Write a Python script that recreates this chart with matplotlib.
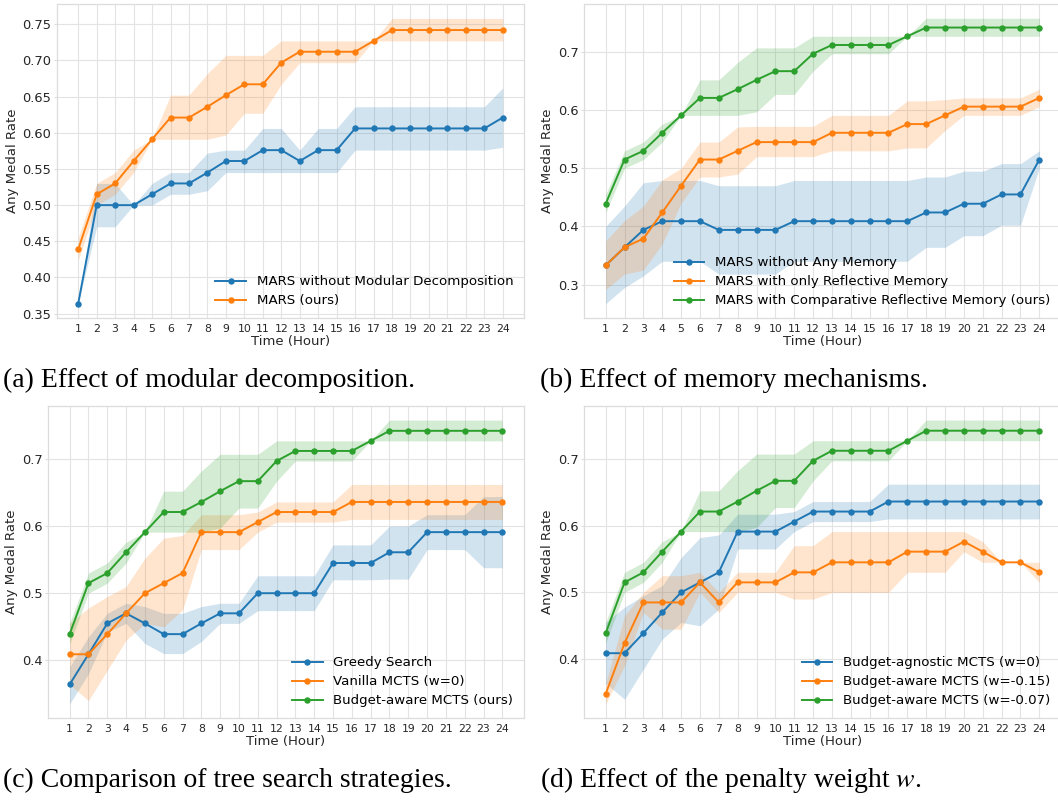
import matplotlib
matplotlib.use("Agg")
import matplotlib.pyplot as plt

plt.rcParams['font.family'] = ['DejaVu Sans']
plt.rcParams['mathtext.fontset'] = 'stix'

hours = list(range(1, 25))

# ---- shared series: full MARS / Budget-aware MCTS (ours) ----
mars_full = [0.439, 0.515, 0.530, 0.561, 0.591, 0.621, 0.621, 0.636, 0.652, 0.667, 0.667, 0.697,
             0.712, 0.712, 0.712, 0.712, 0.727, 0.742, 0.742, 0.742, 0.742, 0.742, 0.742, 0.742]
mars_full_lo = [0.424, 0.500, 0.515, 0.545, 0.591, 0.591, 0.591, 0.591, 0.597, 0.627, 0.627, 0.667,
                0.697, 0.697, 0.697, 0.697, 0.727, 0.727, 0.727, 0.727, 0.727, 0.727, 0.727, 0.727]
mars_full_hi = [0.455, 0.530, 0.545, 0.576, 0.591, 0.652, 0.652, 0.682, 0.707, 0.707, 0.707, 0.727,
                0.727, 0.727, 0.727, 0.727, 0.727, 0.758, 0.758, 0.758, 0.758, 0.758, 0.758, 0.758]

# ---- (a) without modular decomposition ----
no_md = [0.364, 0.500, 0.500, 0.500, 0.515, 0.530, 0.530, 0.545, 0.561, 0.561, 0.576, 0.576,
         0.561, 0.576, 0.576, 0.606, 0.606, 0.606, 0.606, 0.606, 0.606, 0.606, 0.606, 0.621]
no_md_lo = [0.364, 0.470, 0.470, 0.500, 0.500, 0.515, 0.515, 0.520, 0.545, 0.545, 0.545, 0.545,
            0.545, 0.545, 0.545, 0.576, 0.576, 0.576, 0.576, 0.576, 0.576, 0.576, 0.576, 0.580]
no_md_hi = [0.364, 0.530, 0.530, 0.500, 0.530, 0.545, 0.545, 0.572, 0.576, 0.576, 0.606, 0.606,
            0.576, 0.606, 0.606, 0.636, 0.636, 0.636, 0.636, 0.636, 0.636, 0.636, 0.636, 0.662]

# ---- (b) memory ablations ----
no_mem = [0.333, 0.364, 0.394, 0.409, 0.409, 0.409, 0.394, 0.394, 0.394, 0.394, 0.409, 0.409,
          0.409, 0.409, 0.409, 0.409, 0.409, 0.424, 0.424, 0.439, 0.439, 0.455, 0.455, 0.515]
no_mem_lo = [0.267, 0.295, 0.315, 0.340, 0.340, 0.340, 0.318, 0.318, 0.318, 0.318, 0.340, 0.340,
             0.340, 0.340, 0.340, 0.340, 0.340, 0.364, 0.364, 0.384, 0.384, 0.402, 0.402, 0.500]
no_mem_hi = [0.400, 0.435, 0.475, 0.479, 0.479, 0.479, 0.470, 0.470, 0.470, 0.470, 0.479, 0.479,
             0.479, 0.479, 0.479, 0.479, 0.479, 0.485, 0.485, 0.495, 0.495, 0.508, 0.508, 0.530]
refl_mem = [0.333, 0.364, 0.379, 0.424, 0.470, 0.515, 0.515, 0.530, 0.545, 0.545, 0.545, 0.545,
            0.561, 0.561, 0.561, 0.561, 0.576, 0.576, 0.591, 0.606, 0.606, 0.606, 0.606, 0.621]
refl_mem_lo = [0.292, 0.318, 0.325, 0.370, 0.440, 0.485, 0.485, 0.490, 0.520, 0.520, 0.520, 0.520,
               0.530, 0.530, 0.530, 0.530, 0.535, 0.535, 0.565, 0.591, 0.591, 0.591, 0.591, 0.606]
refl_mem_hi = [0.375, 0.410, 0.435, 0.480, 0.500, 0.545, 0.545, 0.571, 0.572, 0.572, 0.572, 0.572,
               0.591, 0.591, 0.591, 0.591, 0.616, 0.616, 0.618, 0.621, 0.621, 0.621, 0.621, 0.636]

# ---- (c) search strategies ----
greedy = [0.364, 0.409, 0.455, 0.470, 0.455, 0.439, 0.439, 0.455, 0.470, 0.470, 0.500, 0.500,
          0.500, 0.500, 0.545, 0.545, 0.545, 0.561, 0.561, 0.591, 0.591, 0.591, 0.591, 0.591]
greedy_lo = [0.335, 0.380, 0.442, 0.455, 0.425, 0.410, 0.410, 0.428, 0.455, 0.455, 0.474, 0.474,
             0.474, 0.474, 0.520, 0.520, 0.520, 0.521, 0.521, 0.565, 0.565, 0.565, 0.538, 0.538]
greedy_hi = [0.390, 0.435, 0.470, 0.485, 0.480, 0.470, 0.470, 0.480, 0.485, 0.485, 0.526, 0.526,
             0.526, 0.526, 0.572, 0.572, 0.572, 0.600, 0.600, 0.617, 0.617, 0.617, 0.644, 0.644]
vanilla = [0.409, 0.409, 0.439, 0.470, 0.500, 0.515, 0.530, 0.591, 0.591, 0.591, 0.606, 0.621,
           0.621, 0.621, 0.621, 0.636, 0.636, 0.636, 0.636, 0.636, 0.636, 0.636, 0.636, 0.636]
vanilla_lo = [0.364, 0.340, 0.385, 0.430, 0.455, 0.450, 0.475, 0.565, 0.565, 0.565, 0.591, 0.606,
              0.606, 0.606, 0.606, 0.610, 0.610, 0.610, 0.610, 0.610, 0.610, 0.610, 0.610, 0.610]
vanilla_hi = [0.455, 0.478, 0.495, 0.510, 0.552, 0.582, 0.586, 0.617, 0.617, 0.617, 0.621, 0.636,
              0.636, 0.636, 0.636, 0.662, 0.662, 0.662, 0.662, 0.662, 0.662, 0.662, 0.662, 0.662]

# ---- (d) penalty weight ----
w015 = [0.348, 0.424, 0.485, 0.485, 0.485, 0.515, 0.485, 0.515, 0.515, 0.515, 0.530, 0.530,
        0.545, 0.545, 0.545, 0.545, 0.561, 0.561, 0.561, 0.576, 0.561, 0.545, 0.545, 0.530]
w015_lo = [0.333, 0.390, 0.470, 0.445, 0.445, 0.500, 0.470, 0.500, 0.500, 0.500, 0.490, 0.490,
           0.500, 0.500, 0.500, 0.500, 0.530, 0.530, 0.530, 0.561, 0.545, 0.545, 0.545, 0.515]
w015_hi = [0.364, 0.465, 0.500, 0.525, 0.525, 0.530, 0.500, 0.530, 0.530, 0.530, 0.570, 0.570,
           0.591, 0.591, 0.591, 0.591, 0.591, 0.591, 0.591, 0.591, 0.576, 0.545, 0.545, 0.545]

labels_a = ["MARS without Modular Decomposition", "MARS (ours)"]
labels_b = ["MARS without Any Memory", "MARS with only Reflective Memory",
            "MARS with Comparative Reflective Memory (ours)"]
labels_c = ["Greedy Search", "Vanilla MCTS (w=0)", "Budget-aware MCTS (ours)"]
labels_d = ["Budget-agnostic MCTS (w=0)", "Budget-aware MCTS (w=-0.15)", "Budget-aware MCTS (w=-0.07)"]
captions = ["(a) Effect of modular decomposition.", "(b) Effect of memory mechanisms.",
            "(c) Comparison of tree search strategies.", "(d) Effect of the penalty weight $w$."]

colors = ['#1f77b4', '#ff7f0e', '#2ca02c']
TXT = '#262626'

W, H = 1058, 800
fig = plt.figure(figsize=(W / 100, H / 100), dpi=100)


def add_ax(l, r, t, b):
    return fig.add_axes([l / W, 1 - b / H, (r - l) / W, (b - t) / H])


def panel(ax, series, labels, ylim, yticks, yfmt):
    for (m, lo, hi), lab, c in zip(series, labels, colors):
        ax.fill_between(hours, lo, hi, color=c, alpha=0.2, lw=0)
        ax.plot(hours, m, marker='o', ms=3.6, lw=1.4, color=c, label=lab)
    ax.set_facecolor('white')
    ax.grid(True, color='#e3e3e3', lw=0.8)
    ax.set_axisbelow(True)
    for s in ax.spines.values():
        s.set_color('#dcdcdc')
        s.set_linewidth(0.9)
    ax.set_xticks(hours)
    ax.set_xlim(hours[0] - 1.15, hours[-1] + 1.15)
    ax.set_ylim(*ylim)
    ax.set_yticks(yticks)
    ax.set_yticklabels([yfmt.format(v) for v in yticks])
    ax.tick_params(axis='y', length=2.5, color='#dcdcdc', labelsize=9.4, labelcolor=TXT, pad=1.5)
    ax.tick_params(axis='x', length=0, labelsize=7.8, labelcolor=TXT, pad=4)
    ax.set_xlabel('Time (Hour)', fontsize=9.5, color=TXT, labelpad=1)
    ax.set_ylabel('Any Medal Rate', fontsize=9.5, color=TXT, labelpad=2.5)
    ax.legend(loc='lower right', frameon=False, fontsize=9.6, handlelength=2.3,
              labelspacing=0.45, borderaxespad=0.4, handletextpad=0.8)


axa = add_ax(57, 524, 4, 318)
panel(axa, [(no_md, no_md_lo, no_md_hi), (mars_full, mars_full_lo, mars_full_hi)], labels_a,
      (0.344, 0.778), [0.35, 0.40, 0.45, 0.50, 0.55, 0.60, 0.65, 0.70, 0.75], "{:.2f}")

axb = add_ax(584, 1061, 4, 318)
panel(axb, [(no_mem, no_mem_lo, no_mem_hi), (refl_mem, refl_mem_lo, refl_mem_hi),
            (mars_full, mars_full_lo, mars_full_hi)], labels_b,
      (0.2425, 0.7825), [0.3, 0.4, 0.5, 0.6, 0.7], "{:.1f}")

axc = add_ax(48, 524, 406, 718)
panel(axc, [(greedy, greedy_lo, greedy_hi), (vanilla, vanilla_lo, vanilla_hi),
            (mars_full, mars_full_lo, mars_full_hi)], labels_c,
      (0.314, 0.779), [0.4, 0.5, 0.6, 0.7], "{:.1f}")

axd = add_ax(584, 1061, 406, 718)
panel(axd, [(vanilla, vanilla_lo, vanilla_hi), (w015, w015_lo, w015_hi),
            (mars_full, mars_full_lo, mars_full_hi)], labels_d,
      (0.312, 0.779), [0.4, 0.5, 0.6, 0.7], "{:.1f}")

cap_pos = [(3, 380), (540, 380), (3, 780), (540, 780)]
for (x, y), cap in zip(cap_pos, captions):
    fig.text(x / W, 1 - y / H, cap, family='Liberation Serif', fontsize=20,
             va='center', ha='left', color='black')

fig.savefig('out.png', dpi=100, facecolor='white')
